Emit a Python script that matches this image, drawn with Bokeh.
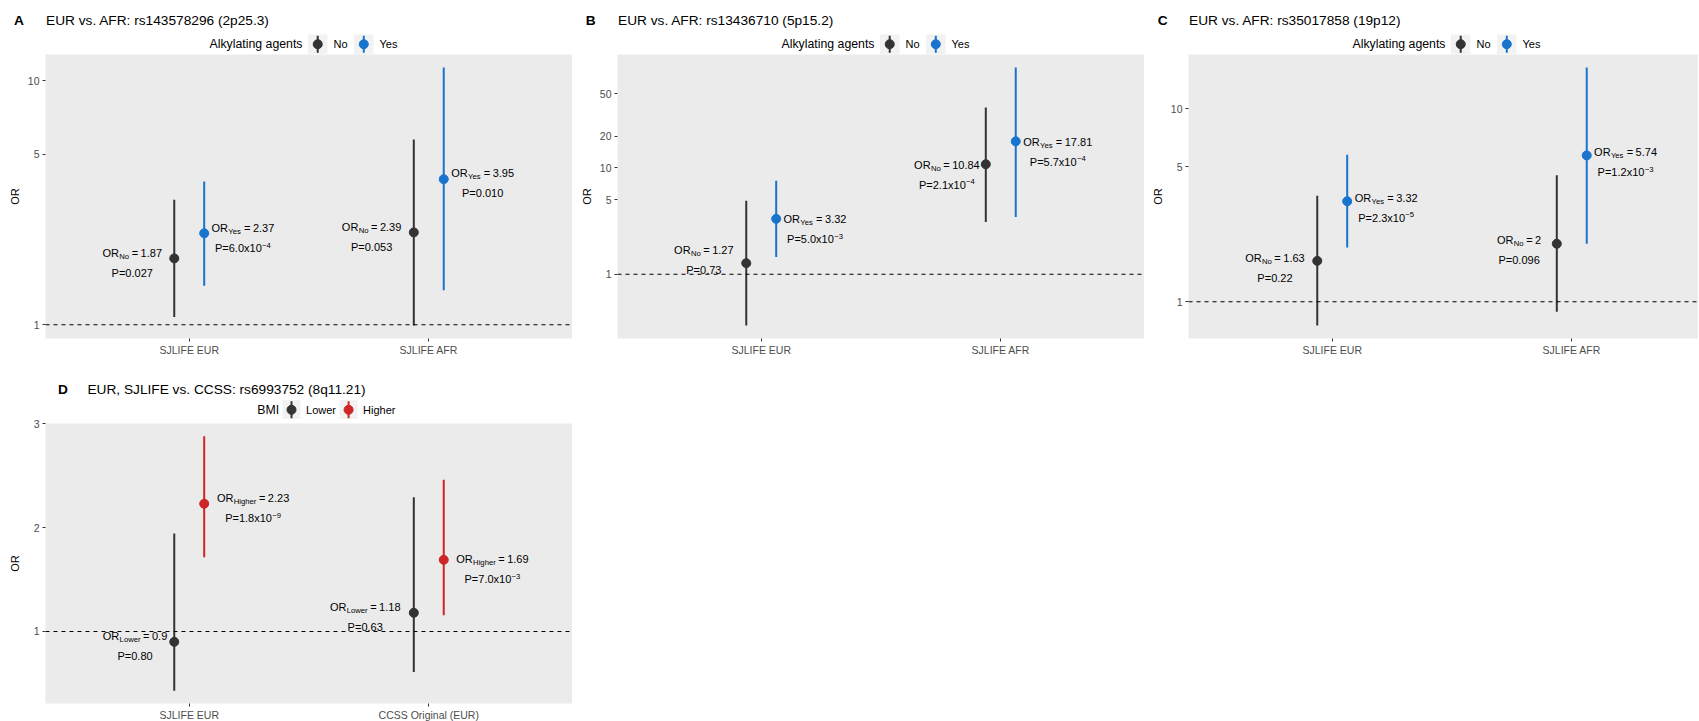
import math
from bokeh.plotting import figure
from bokeh.models import Range1d, FixedTicker, Span, ColumnDataSource
from bokeh.layouts import row, column
from bokeh.core.properties import value
from bokeh.embed import file_html
from bokeh.resources import INLINE

FONT = "Liberation Sans"

# ---------------- data ----------------
cats_abc = ["SJLIFE EUR", "SJLIFE AFR"]
cats_d = ["SJLIFE EUR", "CCSS Original (EUR)"]
groups_abc = ["No", "Yes"]
groups_d = ["Lower", "Higher"]

a_or_no = [1.87, 2.39]
a_lo_no = [1.076, 0.992]
a_hi_no = [3.25, 5.74]
a_or_yes = [2.37, 3.95]
a_lo_yes = [1.445, 1.384]
a_hi_yes = [3.86, 11.34]
a_p_no = ["0.027", "0.053"]
a_p_yes = ["6.0x10^-4", "0.010"]

b_or_no = [1.27, 10.84]
b_lo_no = [0.328, 3.1]
b_hi_no = [4.92, 37.1]
b_or_yes = [3.32, 17.81]
b_lo_yes = [1.45, 3.45]
b_hi_yes = [7.6, 88.5]
b_p_no = ["0.73", "2.1x10^-4"]
b_p_yes = ["5.0x10^-3", "5.7x10^-4"]

c_or_no = [1.63, 2.0]
c_lo_no = [0.753, 0.887]
c_hi_no = [3.55, 4.53]
c_or_yes = [3.32, 5.74]
c_lo_yes = [1.91, 2.0]
c_hi_yes = [5.79, 16.4]
c_p_no = ["0.22", "0.096"]
c_p_yes = ["2.3x10^-5", "1.2x10^-3"]

d_or_lower = [0.9, 1.18]
d_lo_lower = [0.429, 0.61]
d_hi_lower = [1.943, 2.292]
d_or_higher = [2.23, 1.69]
d_lo_higher = [1.714, 1.156]
d_hi_higher = [2.88, 2.461]
d_p_lower = ["0.80", "0.63"]
d_p_higher = ["1.8x10^-9", "7.0x10^-3"]

yticks_a = [1, 5, 10]
yticks_b = [1, 5, 10, 20, 50]
yticks_c = [1, 5, 10]
yticks_d = [1, 2, 3]

titles = ["EUR vs. AFR: rs143578296 (2p25.3)",
          "EUR vs. AFR: rs13436710 (5p15.2)",
          "EUR vs. AFR: rs35017858 (19p12)",
          "EUR, SJLIFE vs. CCSS: rs6993752 (8q11.21)"]
letters = ["A", "B", "C", "D"]
legend_titles = ["Alkylating agents", "Alkylating agents", "Alkylating agents", "BMI"]

# ---------------- style ----------------
COL_DARK = "#333333"
COL_BLUE = "#1874CD"
COL_RED = "#CD2626"
PANEL_BG = "#EBEBEB"
KEY_BG = "#F2F2F2"

# label offsets in px relative to point: [group][category] -> (dx, dy)
off_a = [[(-42, -5.5), (-42.2, -5.7)], [(38.7, -5), (38.9, -6)]]
off_b = [[(-42.4, -13), (-38.9, 0.7)], [(38.8, 0.3), (42, 0.6)]]
off_c = [[(-42.3, -3.3), (-37.7, -3.4)], [(39, -3.4), (38.8, -3.3)]]
off_d = [[(-39.2, -5.7), (-48.6, -5.6)], [(48.9, -5.3), (48.7, -0.7)]]

CW = {' ': 278, '(': 333, ')': 333, '-': 333, '.': 278, ':': 278, ',': 278, '=': 584,
      '\u2212': 584, 'A': 667, 'B': 667, 'C': 722, 'D': 722, 'E': 667, 'F': 611,
      'G': 778, 'H': 722, 'I': 278, 'J': 500, 'K': 667, 'L': 556, 'M': 833, 'N': 722,
      'O': 778, 'P': 667, 'Q': 778, 'R': 722, 'S': 667, 'T': 611, 'U': 722, 'V': 667,
      'W': 944, 'X': 667, 'Y': 667, 'Z': 611, 'a': 556, 'b': 556, 'c': 500, 'd': 556,
      'e': 556, 'f': 278, 'g': 556, 'h': 556, 'i': 222, 'j': 222, 'k': 500, 'l': 222,
      'm': 833, 'n': 556, 'o': 556, 'p': 556, 'q': 556, 'r': 333, 's': 500, 't': 278,
      'u': 556, 'v': 500, 'w': 722, 'x': 500, 'y': 500, 'z': 500}


def tw(s, size):
    return sum(CW.get(ch, 556) for ch in s) * size / 1000.0


def fmt(v):
    return "%g" % v


UX = 2.2 / 527.0
X0 = 0.4
DODGE = 0.0625
FS_ANN = 11.0
FS_SUB = 7.7
NOMINAL_FRAME_W = 527


def header(letter, title, leg_title, groups, colors, width, height, ty, ly, letter_x, bl):
    """Strip above a panel: tag letter, title and legend (pixel coordinates)."""
    t = figure(width=width, height=height, x_range=Range1d(0, width), y_range=Range1d(height, 0),
               output_backend="svg", toolbar_location=None, title=None,
               x_axis_location=None, y_axis_location=None, min_border=0)
    t.min_border_left = t.min_border_right = t.min_border_top = t.min_border_bottom = 0
    t.outline_line_color = None
    t.xgrid.visible = False
    t.ygrid.visible = False
    t.background_fill_color = "white"
    t.border_fill_color = "white"
    t.text(x=[letter_x], y=[ty], text=[letter], text_font=value(FONT),
           text_font_size="13.7px", text_font_style="bold", text_color="black",
           text_align="left", text_baseline="middle")
    rows = dict(x=[bl + 0.5], y=[ty], text=[title], fs=["13.7px"])
    KW = 19.5
    parts_w = (tw(leg_title, 12.3) + 5.5 + KW + 6 + tw(groups[0], 11) + 6.5 + KW + 6
               + tw(groups[1], 11))
    lx = bl + NOMINAL_FRAME_W / 2.0 - 5 - parts_w / 2.0
    rows["x"].append(lx); rows["y"].append(ly); rows["text"].append(leg_title); rows["fs"].append("12.3px")
    lx += tw(leg_title, 12.3) + 5.5
    kl, kr, kx = [], [], []
    for grp in groups:
        kl.append(lx); kr.append(lx + KW); kx.append(lx + KW / 2)
        lx += KW + 6
        rows["x"].append(lx); rows["y"].append(ly); rows["text"].append(grp); rows["fs"].append("11px")
        lx += tw(grp, 11) + 6.5
    t.quad(left=kl, right=kr, top=[ly - KW / 2] * 2, bottom=[ly + KW / 2] * 2,
           fill_color=KEY_BG, line_color=None)
    t.segment(x0=kx, y0=[ly - 8.5] * 2, x1=kx, y1=[ly + 8.5] * 2, line_color=colors, line_width=2)
    t.scatter(x=kx, y=[ly] * 2, size=9, fill_color=colors, line_color=colors)
    t.text(x="x", y="y", text="text", source=ColumnDataSource(rows),
           text_font=value(FONT), text_font_size="fs", text_color="black",
           text_align="left", text_baseline="middle")
    return t


def panel(groups, colors, cats, ors, los, his, pvals, offs,
          yticks, log, frame_w, frame_h, bl, br, bt, bb, ylab_standoff):
    x1 = X0 + frame_w * UX
    all_lo = min(min(l) for l in los)
    all_hi = max(max(h) for h in his)
    f = math.log10 if log else (lambda v: v)
    finv = (lambda t: 10 ** t) if log else (lambda t: t)
    t0, t1 = f(all_lo), f(all_hi)
    span = t1 - t0
    gb, gt = t0 - 0.05 * span, t1 + 0.05 * span
    ppu = frame_h / (gt - gb)

    def y2px(v):
        return (gt - f(v)) * ppu

    def px2y(py):
        return finv(gt - py / ppu)

    def x2px(x):
        return (x - X0) / UX

    def px2x(px):
        return X0 + px * UX

    p = figure(frame_width=frame_w, frame_height=frame_h,
               x_range=Range1d(X0, x1), y_range=Range1d(finv(gb), finv(gt)),
               y_axis_type="log" if log else "linear",
               output_backend="svg", toolbar_location=None, title=None,
               min_border_left=bl, min_border_right=br, min_border_top=bt, min_border_bottom=bb)
    p.outline_line_color = None
    p.background_fill_color = PANEL_BG
    p.border_fill_color = "white"
    p.xgrid.visible = False
    p.ygrid.visible = False
    p.add_layout(Span(location=1, dimension="width", line_color="black",
                      line_dash="4 4", line_width=1.1))

    xa = p.xaxis[0]
    ya = p.yaxis[0]
    xa.ticker = FixedTicker(ticks=[1, 2])
    xa.major_label_overrides = {1: cats[0], 2: cats[1]}
    ya.ticker = FixedTicker(ticks=yticks)
    ya.major_label_overrides = {t: str(t) for t in yticks}
    for ax in (xa, ya):
        ax.axis_line_color = None
        ax.major_tick_line_color = COL_DARK
        ax.major_tick_line_width = 1
        ax.major_tick_out = 3
        ax.major_tick_in = 0
        ax.minor_tick_line_color = None
        ax.major_label_text_font = FONT
        ax.major_label_text_font_size = "10.5px"
        ax.major_label_text_color = "#4D4D4D"
    xa.major_label_standoff = 2
    ya.major_label_standoff = 3
    ya.axis_label = "OR"
    ya.axis_label_text_font = FONT
    ya.axis_label_text_font_size = "11px"
    ya.axis_label_text_font_style = "normal"
    ya.axis_label_text_color = "black"
    ya.axis_label_standoff = ylab_standoff

    rows = dict(x=[], y=[], text=[], fs=[])

    def add_seq(cx, cy, pieces):
        total = sum(g + tw(t, s) for (t, s, d, g) in pieces)
        xx = cx - total / 2.0
        for (t, s, d, g) in pieces:
            xx += g
            rows["x"].append(px2x(xx))
            rows["y"].append(px2y(cy + d))
            rows["text"].append(t)
            rows["fs"].append("%.1fpx" % s)
            xx += tw(t, s)

    for gi, grp in enumerate(groups):
        sign = -1 if gi == 0 else 1
        xs = [i + 1 + sign * DODGE for i in range(len(cats))]
        p.segment(x0=xs, y0=los[gi], x1=xs, y1=his[gi], line_color=colors[gi], line_width=2)
        p.scatter(x=xs, y=ors[gi], size=9, fill_color=colors[gi], line_color=colors[gi])
        for ci in range(len(cats)):
            dx, dy = offs[gi][ci]
            cx = x2px(xs[ci]) + dx
            cy = y2px(ors[gi][ci]) + dy
            add_seq(cx, cy, [("OR", FS_ANN, 0, 0), (grp, FS_SUB, 3.5, 0.3),
                             ("=", FS_ANN, 0, 2.5), (fmt(ors[gi][ci]), FS_ANN, 0, 2.5)])
            pv = pvals[gi][ci]
            if "^" in pv:
                mant, ex = pv.split("^")
                add_seq(cx, cy + 20, [("P=" + mant, FS_ANN, 0, 0),
                                      (ex.replace("-", "\u2212"), FS_SUB, -3, 0.3)])
            else:
                add_seq(cx, cy + 20, [("P=" + pv, FS_ANN, 0, 0)])

    p.text(x="x", y="y", text="text", source=ColumnDataSource(rows),
           text_font=value(FONT), text_font_size="fs", text_color="black",
           text_align="left", text_baseline="middle")
    return p


# top row: header strips (54 px) + panels (gray frame 284 px)
ha = header(letters[0], titles[0], legend_titles[0], groups_abc, [COL_DARK, COL_BLUE],
            572, 54, 20, 43.7, 13.6, 45)
hb = header(letters[1], titles[1], legend_titles[1], groups_abc, [COL_DARK, COL_BLUE],
            572, 54, 20, 43.7, 13.2, 45)
hc = header(letters[2], titles[2], legend_titles[2], groups_abc, [COL_DARK, COL_BLUE],
            554, 54, 20, 43.7, 13.2, 44)
pa = panel(groups_abc, [COL_DARK, COL_BLUE], cats_abc,
           [a_or_no, a_or_yes], [a_lo_no, a_lo_yes], [a_hi_no, a_hi_yes], [a_p_no, a_p_yes], off_a,
           yticks_a, True, 527, 284, 45, 0, 0, 18, 4)
pb = panel(groups_abc, [COL_DARK, COL_BLUE], cats_abc,
           [b_or_no, b_or_yes], [b_lo_no, b_lo_yes], [b_hi_no, b_hi_yes], [b_p_no, b_p_yes], off_b,
           yticks_b, True, 527, 284, 45, 0, 0, 18, 4)
pc = panel(groups_abc, [COL_DARK, COL_BLUE], cats_abc,
           [c_or_no, c_or_yes], [c_lo_no, c_lo_yes], [c_hi_no, c_hi_yes], [c_p_no, c_p_yes], off_c,
           yticks_c, True, 510, 284, 44, 0, 0, 18, 4)
hd = header(letters[3], titles[3], legend_titles[3], groups_d, [COL_DARK, COL_RED],
            572, 61, 30.7, 51.3, 13.6, 45)
pd_ = panel(groups_d, [COL_DARK, COL_RED], cats_d,
            [d_or_lower, d_or_higher], [d_lo_lower, d_lo_higher], [d_hi_lower, d_hi_higher],
            [d_p_lower, d_p_higher], off_d,
            yticks_d, False, 527, 280, 45, 0, 4, 18, 10)

layout = column(row(ha, hb, hc), row(pa, pb, pc), hd, pd_)
open("out.html", "w").write(file_html(layout, INLINE, "Forest plots"))
